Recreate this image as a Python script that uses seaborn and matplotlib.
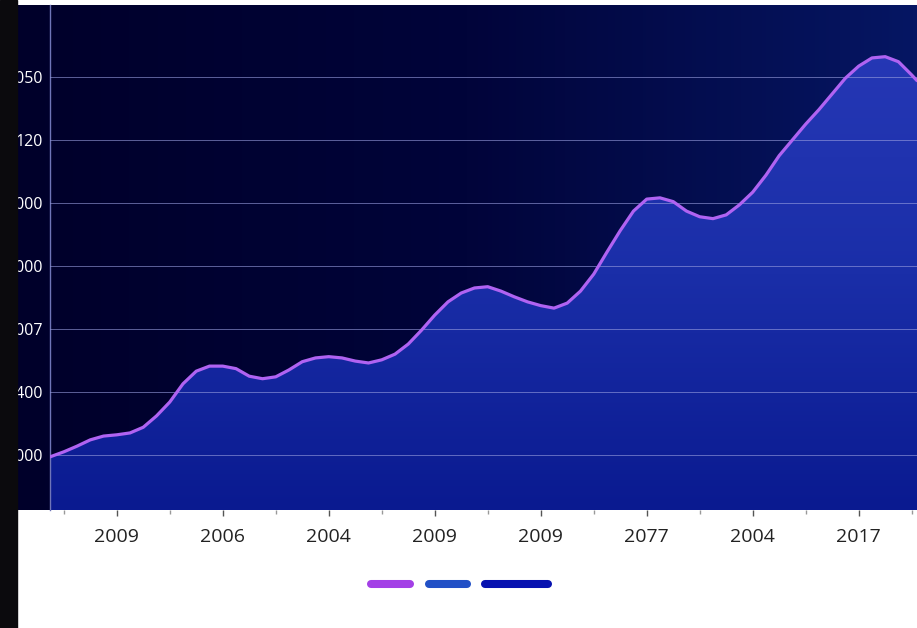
import numpy as np
import pandas as pd
import matplotlib
matplotlib.use("Agg")
import matplotlib.pyplot as plt
from matplotlib.patches import Rectangle
from matplotlib.lines import Line2D
import seaborn as sns

# Datos (posicion en el eje x, valor)
posicion = [0.37, 0.5, 0.625, 0.75, 0.875, 1.0, 1.125, 1.25, 1.375, 1.5, 1.625, 1.75,
            1.875, 2.0, 2.125, 2.25, 2.375, 2.5, 2.625, 2.75, 2.875, 3.0, 3.125, 3.25,
            3.375, 3.5, 3.625, 3.75, 3.875, 4.0, 4.125, 4.25, 4.375, 4.5, 4.625, 4.75,
            4.875, 5.0, 5.125, 5.25, 5.375, 5.5, 5.625, 5.75, 5.875, 6.0, 6.125, 6.25,
            6.375, 6.5, 6.625, 6.75, 6.875, 7.0, 7.125, 7.25, 7.375, 7.5, 7.625, 7.75,
            7.875, 8.0, 8.125, 8.25, 8.375, 8.5, 8.55]
valor = [97, 105, 114, 124, 130, 132, 135, 144, 162, 184, 213, 233,
         241, 241, 237, 225, 221, 224, 235, 248, 254, 256, 254, 249,
         246, 251, 260, 276, 298, 322, 343, 357, 365, 367, 360, 351,
         343, 337, 333, 341, 360, 387, 422, 456, 487, 506, 508, 502,
         487, 478, 475, 481, 497, 517, 544, 575, 600, 625, 648, 673,
         698, 717, 730, 732, 724, 703, 694]

etiquetas_x = ["2009", "2006", "2004", "2009", "2009", "2077", "2004", "2017"]
ticks_y = [100, 200, 300, 400, 500, 600, 700]
etiquetas_y = ["1000", "1400", "1007", "1000", "1000", "120", "1050"]
colores_leyenda = ["#a33fe6", "#2150c6", "#0712b0"]

df = pd.DataFrame({"x": posicion, "valor": valor})

sns.set_theme(style="dark")
plt.rcParams["font.family"] = ["Open Sans", "DejaVu Sans"]

W, H = 917, 628
fig = plt.figure(figsize=(W / 100, H / 100), dpi=100, facecolor="white")

# Panel de fondo con degradado
bg = fig.add_axes([17 / W, 118 / H, 900 / W, 505 / H])
grad = np.linspace(0, 1, 256).reshape(1, -1)
cmap_bg = matplotlib.colors.LinearSegmentedColormap.from_list("bg", ["#00002a", "#01043a", "#061663"])
bg.imshow(grad, aspect="auto", cmap=cmap_bg, extent=[0, 1, 0, 1])
bg.set_axis_off()

ax = fig.add_axes([50 / W, 118 / H, 867 / W, 505 / H])
ax.patch.set_alpha(0)
ax.set_xlim(0.37, 8.55)
ax.set_ylim(12.7, 814)

# Area bajo la curva con degradado vertical
relleno = ax.fill_between(df["x"], df["valor"], 0, color="none", lw=0)
cmap_fill = matplotlib.colors.LinearSegmentedColormap.from_list("fill", ["#0a1a90", "#1a2ea8", "#2638b6"])
img = ax.imshow(np.linspace(0, 1, 256).reshape(-1, 1), aspect="auto", cmap=cmap_fill,
                origin="lower", extent=[0.37, 8.55, 12.7, 760], zorder=1)
img.set_clip_path(relleno.get_paths()[0], transform=ax.transData)

sns.lineplot(data=df, x="x", y="valor", color="#b063f2", lw=2.3, ax=ax, zorder=3,
             solid_joinstyle="round", solid_capstyle="round")

ax.set_yticks(ticks_y)
ax.set_yticklabels(etiquetas_y)
ax.set_xticks(range(1, 9))
ax.set_xticklabels(etiquetas_x)
ax.set_xticks([x + 0.5 for x in range(0, 9)], minor=True)
ax.set_xlabel("")
ax.set_ylabel("")

ax.grid(axis="y", color="#9a9fe0", lw=0.7, alpha=0.6, zorder=2)
ax.grid(axis="x", visible=False)
ax.set_axisbelow(False)

ax.tick_params(axis="y", length=0, pad=5, labelsize=11.5, labelcolor="white")
ax.tick_params(axis="x", which="major", length=4, width=1, color="#555555", pad=9,
               labelsize=14, labelcolor="#222222", bottom=True)
ax.tick_params(axis="x", which="minor", length=3, width=1, color="#999999", bottom=True)

for s in ["top", "right", "bottom"]:
    ax.spines[s].set_visible(False)
ax.spines["left"].set_color("#6f75b8")
ax.spines["left"].set_linewidth(1)

# Leyenda con pastillas de color
pastillas = [(371, 410), (429, 467), (485, 548)]
for (x0, x1), c in zip(pastillas, colores_leyenda):
    fig.add_artist(Line2D([x0 / W, x1 / W], [1 - 584 / H] * 2, transform=fig.transFigure,
                          color=c, lw=5.8, solid_capstyle="round"))

# Franja negra izquierda
fig.add_artist(Rectangle((0, 0), 17 / W, 1, transform=fig.transFigure,
                         color="#0b0a0d", zorder=10))

fig.savefig("out.png", dpi=100, facecolor=fig.get_facecolor())
